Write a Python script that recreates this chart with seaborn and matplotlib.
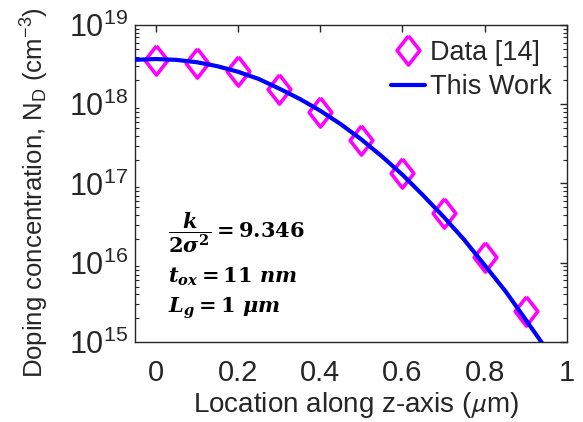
import numpy as np
import matplotlib
matplotlib.use("Agg")
import matplotlib.pyplot as plt
import seaborn as sns
from matplotlib.ticker import FixedLocator, LogLocator, NullFormatter

# Measured doping profile (markers)
data_z = [0.0, 0.1, 0.2, 0.3, 0.4, 0.5, 0.6, 0.7, 0.8, 0.9]
data_nd = [3.6e18, 3.3e18, 2.6e18, 1.56e18, 8.0e17, 3.5e17, 1.36e17, 4.2e16, 1.18e16, 2.46e15]

# Model profile (solid line)
model_z = [-0.05, 0.0, 0.05, 0.1, 0.15, 0.2, 0.25, 0.3, 0.35, 0.4, 0.45,
           0.5, 0.55, 0.6, 0.65, 0.7, 0.75, 0.8, 0.85, 0.9, 0.95]
model_nd = [3.63e18, 3.72e18, 3.63e18, 3.39e18, 3.02e18, 2.57e18, 2.09e18,
            1.58e18, 1.17e18, 8.3e17, 5.6e17, 3.6e17, 2.2e17, 1.29e17,
            7.1e16, 3.8e16, 1.95e16, 9.3e15, 4.4e15, 1.9e15, 8.1e14]

x_ticks = [0, 0.2, 0.4, 0.6, 0.8, 1]
x_tick_labels = ["0", "0.2", "0.4", "0.6", "0.8", "1"]
y_ticks = [1e15, 1e16, 1e17, 1e18, 1e19]
y_tick_labels = [r"$\mathsf{10^{15}}$", r"$\mathsf{10^{16}}$", r"$\mathsf{10^{17}}$",
                 r"$\mathsf{10^{18}}$", r"$\mathsf{10^{19}}$"]

sns.set_theme(style="white")
plt.rcParams["font.family"] = ["Liberation Sans", "DejaVu Sans"]
plt.rcParams["mathtext.fontset"] = "custom"
plt.rcParams["mathtext.rm"] = "DejaVu Serif:bold"
plt.rcParams["mathtext.it"] = "DejaVu Serif:italic:bold"
plt.rcParams["mathtext.bf"] = "DejaVu Serif:bold"
plt.rcParams["mathtext.sf"] = "Liberation Sans"

text_color = "#262626"

fig = plt.figure(figsize=(5.83, 4.22), dpi=100)
ax = fig.add_axes([0.2316, 0.1896, 0.741, 0.7512])

diamond = [(0, 1), (0.78, 0), (0, -1), (-0.78, 0), (0, 1)]

h_data, = ax.plot(data_z, data_nd, linestyle="none", marker=diamond,
                  markersize=21, markerfacecolor="none",
                  markeredgecolor="#ff00ff", markeredgewidth=2.6,
                  label="Data [14]", zorder=3)
sns.lineplot(x=model_z, y=model_nd, ax=ax, color="#0000ff", linewidth=3.0,
             label="This Work", zorder=4, sort=False, estimator=None)

ax.set_yscale("log")
ax.set_xlim(-0.05, 1)
ax.set_ylim(1e15, 1e19)

ax.xaxis.set_major_locator(FixedLocator(x_ticks))
ax.set_xticklabels(x_tick_labels)
ax.yaxis.set_major_locator(FixedLocator(y_ticks))
ax.set_yticklabels(y_tick_labels)
ax.yaxis.set_minor_locator(LogLocator(base=10, subs=np.arange(2, 10)))
ax.yaxis.set_minor_formatter(NullFormatter())

ax.tick_params(axis="both", which="major", direction="in", length=5, width=1,
               top=True, right=True, labelsize=21, colors="#262626",
               labelcolor=text_color)
ax.tick_params(axis="x", which="major", pad=12)
ax.tick_params(axis="y", which="major", labelsize=22, pad=5)
ax.tick_params(axis="y", which="minor", direction="in", length=3, width=0.8,
               left=True, right=True, colors="#262626")
for s in ax.spines.values():
    s.set_visible(True)
    s.set_color("#262626")
    s.set_linewidth(1.0)

ax.set_xlabel(r"Location along z-axis ($\mu$m)", fontsize=20, color=text_color,
              math_fontfamily="stixsans")
ax.set_ylabel(r"Doping concentration, N$_\mathsf{D}$ (cm$^\mathsf{-3}$)",
              fontsize=18.5, color=text_color)
ax.xaxis.set_label_coords(0.512, -0.151)
ax.yaxis.set_label_coords(-0.195, 0.47)

ax.legend(handles=[h_data, ax.lines[-1]], labels=["Data [14]", "This Work"],
          loc="upper right", frameon=False, fontsize=19.5,
          handlelength=1.25, handletextpad=0.2, labelspacing=0.3,
          borderaxespad=0.25, borderpad=0.3, labelcolor=text_color)

ax.text(0.076, 0.344, r"$\dfrac{k}{2\sigma^2} = 9.346$", transform=ax.transAxes,
        fontsize=15, color="black", va="center", ha="left")
ax.text(0.076, 0.205, r"$t_{ox} = 11\ nm$", transform=ax.transAxes,
        fontsize=15, color="black", va="center", ha="left")
ax.text(0.076, 0.107, r"$L_g = 1\ \mu m$", transform=ax.transAxes,
        fontsize=15, color="black", va="center", ha="left")

fig.savefig("out.png", dpi=100)
